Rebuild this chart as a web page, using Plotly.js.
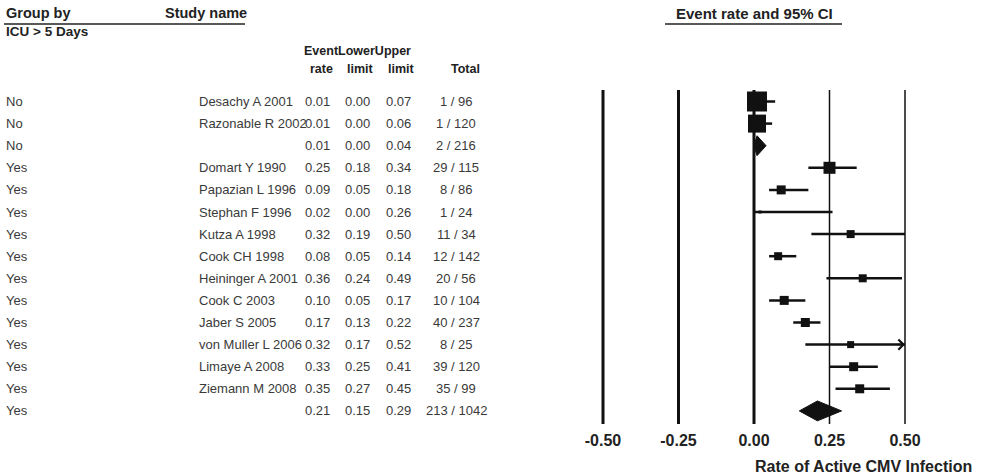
<!DOCTYPE html>
<html>
<head>
<meta charset="utf-8">
<script src="https://cdn.plot.ly/plotly-3.0.1.min.js"></script>
<style>
html,body{margin:0;padding:0;background:#fff;}
#chart{width:992px;height:474px;}
</style>
</head>
<body>
<div id="chart"></div>
<script>
// ---------------- DATA ----------------
const groupBy = ['No','No','No','Yes','Yes','Yes','Yes','Yes','Yes','Yes','Yes','Yes','Yes','Yes','Yes'];
const studyName = ['Desachy A 2001','Razonable R 2002','','Domart Y 1990','Papazian L 1996','Stephan F 1996',
  'Kutza A 1998','Cook CH 1998','Heininger A 2001','Cook C 2003','Jaber S 2005','von Muller L 2006',
  'Limaye A 2008','Ziemann M 2008',''];
const eventRate  = [0.01,0.01,0.01,0.25,0.09,0.02,0.32,0.08,0.36,0.10,0.17,0.32,0.33,0.35,0.21];
const lowerLimit = [0.00,0.00,0.00,0.18,0.05,0.00,0.19,0.05,0.24,0.05,0.13,0.17,0.25,0.27,0.15];
const upperLimit = [0.07,0.06,0.04,0.34,0.18,0.26,0.50,0.14,0.49,0.17,0.22,0.52,0.41,0.45,0.29];
const totalText  = ['1 / 96','1 / 120','2 / 216','29 / 115','8 / 86','1 / 24','11 / 34','12 / 142',
  '20 / 56','10 / 104','40 / 237','8 / 25','39 / 120','35 / 99','213 / 1042'];
const isSummary  = [false,false,true,false,false,false,false,false,false,false,false,false,false,false,true];
const axisTicks  = [-0.50,-0.25,0.00,0.25,0.50];
const axisTickText = ['-0.50','-0.25','0.00','0.25','0.50'];

// ---------------- STYLE ----------------
const squarePx = [20,18,0,12,9,3,8,8,8,9,9,7,9,9,0];
const lineWidthAt = [3,3,3,1.5,1.5];
const W = 992, H = 474;
const FONT = 'Liberation Sans, Arial, sans-serif';
const axisMin = -0.5, axisMax = 0.5;
const px0 = 754, pxPerUnit = 302;
const plotL = 580, plotR = 992;
const plotTop = 90, plotBot = 424;
const rowTopPx = 101.5, rowStep = 22.1;
const yTop = (plotTop - rowTopPx) / rowStep;
const yBot = (plotBot - rowTopPx) / rowStep;
const px = v => v / W;

const traces = [];
// CI lines (clipped to axis)
const ciX = [], ciY = [];
const arrowRows = [];
eventRate.forEach((r, i) => {
  if (isSummary[i]) return;
  ciX.push(Math.max(lowerLimit[i], axisMin), Math.min(upperLimit[i], axisMax), null);
  ciY.push(i, i, null);
  if (upperLimit[i] > axisMax) arrowRows.push(i);
});
traces.push({x: ciX, y: ciY, mode: 'lines', type: 'scatter',
  line: {color: '#111', width: 2.5}, hoverinfo: 'skip', showlegend: false, cliponaxis: false});

// squares
const sqX = [], sqY = [], sqS = [];
eventRate.forEach((r, i) => { if (!isSummary[i]) { sqX.push(r); sqY.push(i); sqS.push(squarePx[i]); } });
traces.push({x: sqX, y: sqY, mode: 'markers', type: 'scatter',
  marker: {symbol: 'square', size: sqS, color: '#111', opacity: 1, line: {width: 0}},
  showlegend: false, cliponaxis: false});

// diamonds for summaries
const halfH = 0.45;
eventRate.forEach((r, i) => {
  if (!isSummary[i]) return;
  traces.push({x: [lowerLimit[i], r, upperLimit[i], r, lowerLimit[i]],
    y: [i, i - halfH, i, i + halfH, i], mode: 'lines', type: 'scatter', fill: 'toself',
    fillcolor: '#111', line: {color: '#111', width: 1}, showlegend: false, hoverinfo: 'skip'});
});

// shapes: vertical reference lines + header underlines
const shapes = axisTicks.map((t, k) => ({type: 'line', xref: 'x', x0: t, x1: t,
  yref: 'paper', y0: 1 - plotBot / H, y1: 1 - plotTop / H, line: {color: '#111', width: lineWidthAt[k]}, layer: 'below'}));
shapes.push({type: 'line', xref: 'paper', yref: 'paper', x0: px(4), x1: px(245), y0: 1 - 24 / H, y1: 1 - 24 / H,
  line: {color: '#222', width: 1.5}});
shapes.push({type: 'line', xref: 'paper', yref: 'paper', x0: px(665), x1: px(842), y0: 1 - 24 / H, y1: 1 - 24 / H,
  line: {color: '#222', width: 1.5}});

// arrows for CI beyond axis
const annotations = [];
arrowRows.forEach(i => {
  annotations.push({x: axisMax, y: i, xref: 'x', yref: 'y', ax: axisMax - 0.03, ay: i, axref: 'x', ayref: 'y',
    showarrow: true, arrowhead: 4, arrowsize: 1.3, arrowwidth: 1.5, arrowcolor: '#111', text: ''});
});

function txt(text, xPx, y, opts) {
  return Object.assign({text: text, x: px(xPx), xref: 'paper', y: y, yref: 'y', showarrow: false,
    xanchor: 'left', yanchor: 'middle', font: {family: FONT, size: 13, color: '#3a3a3a'}}, opts || {});
}
function hdr(text, xPx, yPx, size, anchor) {
  return {text: text, x: px(xPx), xref: 'paper', y: 1 - yPx / H, yref: 'paper', showarrow: false,
    xanchor: anchor || 'left', yanchor: 'middle', font: {family: FONT, size: size, color: '#222', weight: 'bold'}};
}

// table rows
groupBy.forEach((g, i) => {
  annotations.push(txt(g, 4, i));
  if (studyName[i]) annotations.push(txt(studyName[i], 197, i));
  annotations.push(txt(eventRate[i].toFixed(2), 332, i, {xanchor: 'right'}));
  annotations.push(txt(lowerLimit[i].toFixed(2), 372, i, {xanchor: 'right'}));
  annotations.push(txt(upperLimit[i].toFixed(2), 413, i, {xanchor: 'right'}));
  annotations.push(txt(totalText[i], 456, i, {xanchor: 'center'}));
});

// headers
annotations.push(hdr('Group by', 4, 13, 14.5));
annotations.push(hdr('Study name', 163, 13, 14.5));
annotations.push(hdr('ICU &gt; 5 Days', 4, 32, 13.5));
annotations.push(hdr('EventLowerUpper', 302, 51, 12.5));
annotations.push(hdr('rate', 321, 69, 12.5, 'center'));
annotations.push(hdr('limit', 360, 69, 12.5, 'center'));
annotations.push(hdr('limit', 401, 69, 12.5, 'center'));
annotations.push(hdr('Total', 465, 69, 12.5, 'center'));
annotations.push(hdr('Event rate and 95% CI', 754, 13, 15, 'center'));
annotations.push(hdr('Rate of Active CMV Infection', 753, 466, 16, 'left'));

const layout = {
  width: W, height: H, margin: {l: 0, r: 0, t: 0, b: 0},
  paper_bgcolor: '#fff', plot_bgcolor: '#fff', showlegend: false,
  xaxis: {domain: [plotL / W, plotR / W],
    range: [(plotL - px0) / pxPerUnit, (plotR - px0) / pxPerUnit],
    tickvals: axisTicks, ticktext: axisTickText, showgrid: false, zeroline: false, showline: false,
    ticks: '', ticklabelstandoff: 5,
    tickfont: {family: FONT, size: 16, color: '#222', weight: 'bold'}, fixedrange: true},
  yaxis: {domain: [1 - plotBot / H, 1 - plotTop / H], range: [yBot, yTop], visible: false, fixedrange: true},
  shapes: shapes, annotations: annotations
};

Plotly.newPlot('chart', traces, layout, {staticPlot: true, displayModeBar: false});
</script>
</body>
</html>
